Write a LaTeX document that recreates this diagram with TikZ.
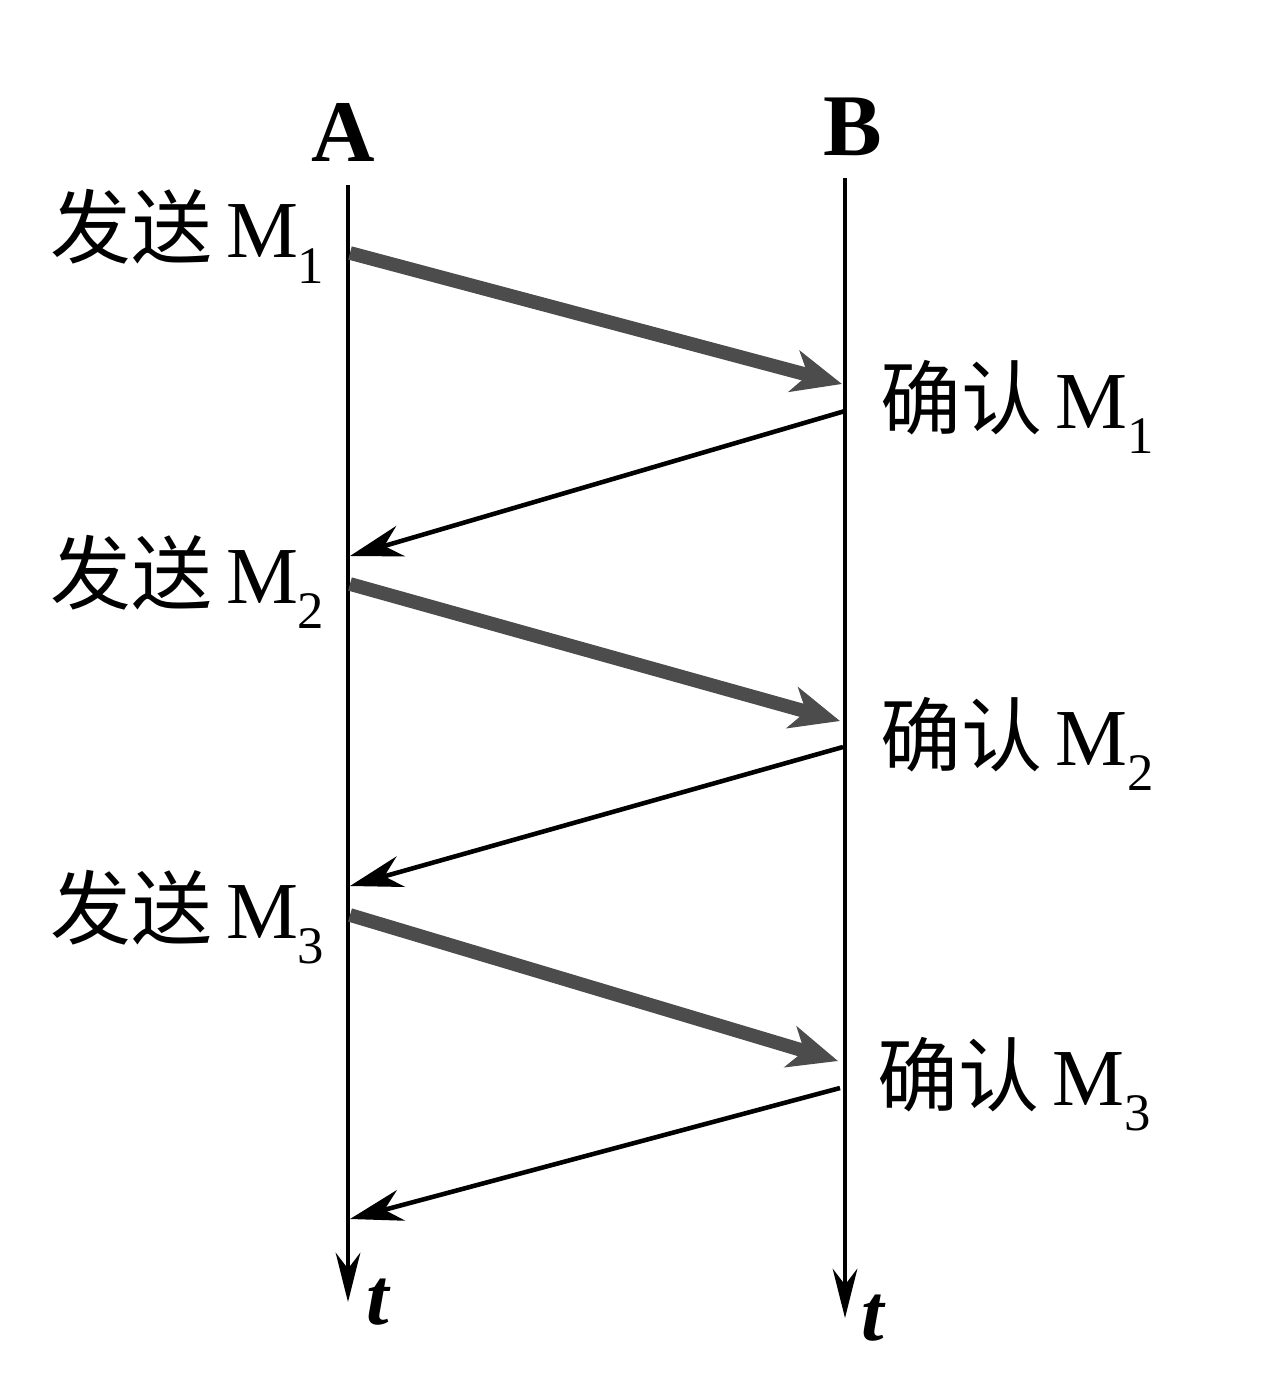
\documentclass[tikz,border=0pt]{standalone}
\usepackage{fontspec}
\setmainfont{Liberation Serif}
\newfontfamily\cjk{Noto Sans CJK SC}
\usetikzlibrary{arrows.meta}
\newcommand{\msub}[1]{\raisebox{-0.32em}{\fontsize{15}{16}\selectfont #1}}
\begin{document}
\begin{tikzpicture}[x=0.01cm,y=-0.01cm,
  lbl/.style={font=\fontsize{23}{26}\selectfont, inner sep=0pt},
  life/.style={line width=1.3pt, -{Stealth[length=14pt,width=7pt]}},
  msg/.style={line width=3.9pt, black!70, -{Stealth[length=14pt,width=12pt,inset=4pt]}},
  ack/.style={line width=1.3pt, -{Stealth[length=15pt,width=9pt]}},
]
\useasboundingbox (0,0) rectangle (1272,1394);
% lifelines
\coordinate (Atop) at (348,185);
\coordinate (Abot) at (348,1302);
\coordinate (Btop) at (845,178);
\coordinate (Bbot) at (845,1318);
\node[lbl, font=\fontsize{25}{28}\selectfont\bfseries] (A) at (343,132) {A};
\node[lbl, font=\fontsize{25}{28}\selectfont\bfseries] (B) at (853,127) {B};
\draw[life] (Atop) -- (Abot);
\draw[life] (Btop) -- (Bbot);
\node[lbl, font=\fontsize{23}{26}\selectfont\itshape\bfseries] (tA) at (378,1302) {t};
\node[lbl, font=\fontsize{23}{26}\selectfont\itshape\bfseries] (tB) at (873,1318) {t};
% message endpoints
\coordinate (s1) at (350,253); \coordinate (r1) at (842,384);
\coordinate (s2) at (350,584); \coordinate (r2) at (840,721);
\coordinate (s3) at (350,915); \coordinate (r3) at (838,1061);
\coordinate (c1) at (845,411); \coordinate (a1) at (350,556);
\coordinate (c2) at (843,747); \coordinate (a2) at (350,886);
\coordinate (c3) at (840,1088); \coordinate (a3) at (350,1219);
\draw[msg] (s1) -- (r1);
\draw[msg] (s2) -- (r2);
\draw[msg] (s3) -- (r3);
\draw[ack] (c1) -- (a1);
\draw[ack] (c2) -- (a2);
\draw[ack] (c3) -- (a3);
% labels
\node[lbl, anchor=base east] (L1) at (325,258) {{\cjk 发送}\,M\msub{1}};
\node[lbl, anchor=base east] (L2) at (325,603) {{\cjk 发送}\,M\msub{2}};
\node[lbl, anchor=base east] (L3) at (325,938) {{\cjk 发送}\,M\msub{3}};
\node[lbl, anchor=base west] (R1) at (880,428) {{\cjk 确认}\,M\msub{1}};
\node[lbl, anchor=base west] (R2) at (880,765) {{\cjk 确认}\,M\msub{2}};
\node[lbl, anchor=base west] (R3) at (877,1105) {{\cjk 确认}\,M\msub{3}};
\end{tikzpicture}
\end{document}
